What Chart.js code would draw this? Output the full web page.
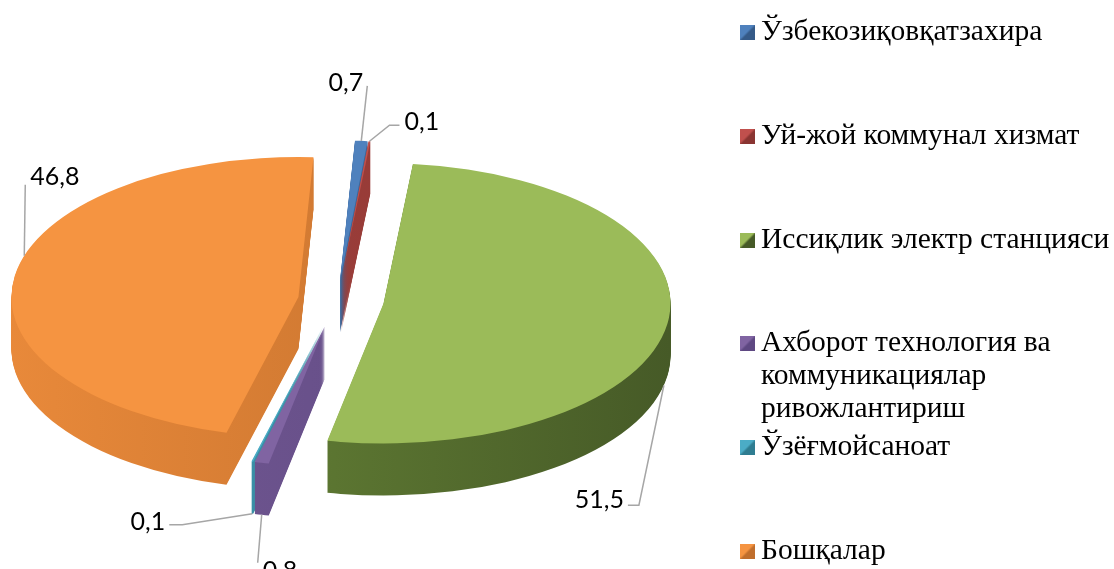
<!DOCTYPE html>
<html>
<head>
<meta charset="utf-8">
<script src="https://cdn.jsdelivr.net/npm/chart.js@4.4.0/dist/chart.umd.min.js"></script>
<style>
  html, body { margin: 0; padding: 0; background: #fff; }
  #wrap { position: relative; width: 1114px; height: 569px; overflow: hidden; }
  #pie { position: absolute; left: 0; top: 0; }
  #legend { position: absolute; left: 740px; top: 0; width: 374px; height: 569px; color: #000; }
  .item { position: absolute; left: 0; display: flex; align-items: flex-start; }
  .box { width: 15px; height: 15px; margin-top: 11px; margin-right: 6px; flex: none; }
  .txt { width: 356px; font-family: 'Liberation Serif'; font-size: 29.5px; line-height: 33px; }
</style>
</head>
<body>
<div id="wrap">
  <canvas id="pie" width="1114" height="569"></canvas>
  <div id="legend"></div>
</div>
<script>
// data
const categories = [
  'Ўзбекозиқовқатзахира',
  'Уй-жой коммунал хизмат',
  'Иссиқлик электр станцияси',
  'Ахборот технология ва коммуникациялар ривожлантириш',
  'Ўзёғмойсаноат',
  'Бошқалар'
];
const shares = [0.7, 0.1, 51.5, 0.8, 0.1, 46.8];
const shareLabels = ['0,7', '0,1', '51,5', '0,8', '0,1', '46,8'];

const topColors  = ['#4F81BD', '#C0504D', '#9BBB59', '#8064A2', '#4BACC6', '#F59441'];
const sideLight  = ['#4673AA', '#A9443F', '#6A8838', '#735993', '#3F9AB2', '#E8893A'];
const sideDark   = ['#355A88', '#8A3532', '#465A27', '#5E4882', '#2F7D91', '#C06E2C'];

// 3D look
const TILT = 0.488;
const DEPTH = 52;
const RADIUS = 287;
const explode = [40, 40, 47, 55, 55, 39];

// label leader layout, relative to the anchor on the slice rim
const labelLayout = [
  { frac: 0.5,  side: false, path: [[0, 0], [6, -55]],               align: 'right', dx: -4, dy: -3 },
  { frac: 0.5,  side: false, path: [[0, 0], [20, -16], [30, -16]],   align: 'left',  dx: 5,  dy: -3 },
  { frac: 0.52, side: true,  path: [[0, 0], [-25, 120], [-36, 120]], align: 'right', dx: -4, dy: -5 },
  { frac: 0.5,  side: true,  path: [[0, 0], [-4, 48]],               align: 'left',  dx: 5,  dy: 8 },
  { frac: 0.5,  side: true,  path: [[0, 0], [-70, 11], [-83, 11]],   align: 'right', dx: -4, dy: -3 },
  { frac: 0.55, side: false, path: [[0, 0], [1, -71]],               align: 'left',  dx: 5,  dy: -8 }
];

function sliceShift(arc, i) {
  const mid = (arc.startAngle + arc.endAngle) / 2;
  return { x: Math.cos(mid) * explode[i], y: Math.sin(mid) * explode[i] * TILT };
}

function withOptions(arc, bg) {
  const fake = Object.create(arc);
  fake.options = Object.assign(Object.create(arc.options), { backgroundColor: bg, borderWidth: 0 });
  return fake;
}

const pie3d = {
  id: 'pie3d',
  beforeDatasetsDraw(chart) {
    const ctx = chart.ctx;
    const arcs = chart.getDatasetMeta(0).data;
    const cx = arcs[0].x, cy = arcs[0].y;

    // sides, back to front
    const order = arcs.map((a, i) => i).sort((p, q) => {
      const mp = (arcs[p].startAngle + arcs[p].endAngle) / 2;
      const mq = (arcs[q].startAngle + arcs[q].endAngle) / 2;
      return Math.sin(mp) - Math.sin(mq);
    });
    order.forEach(i => {
      const arc = arcs[i];
      const s = sliceShift(arc, i);
      const grad = ctx.createLinearGradient(cx - RADIUS, 0, cx + RADIUS, 0);
      grad.addColorStop(0, sideLight[i]);
      grad.addColorStop(1, sideDark[i]);
      const fake = withOptions(arc, grad);
      for (let d = DEPTH; d >= 1; d--) {
        ctx.save();
        ctx.translate(cx + s.x, cy + s.y + d);
        ctx.scale(1, TILT);
        ctx.translate(-cx, -cy);
        fake.draw(ctx);
        ctx.restore();
      }
    });

    // top faces
    arcs.forEach((arc, i) => {
      const s = sliceShift(arc, i);
      ctx.save();
      ctx.translate(cx + s.x, cy + s.y);
      ctx.scale(1, TILT);
      ctx.translate(-cx, -cy);
      withOptions(arc, topColors[i]).draw(ctx);
      ctx.restore();
    });

    // value labels with leader lines
    ctx.save();
    ctx.font = '25px Lato, "Open Sans", sans-serif';
    ctx.textBaseline = 'middle';
    arcs.forEach((arc, i) => {
      const L = labelLayout[i];
      const s = sliceShift(arc, i);
      const a = arc.startAngle + L.frac * (arc.endAngle - arc.startAngle);
      const ax = cx + s.x + Math.cos(a) * RADIUS;
      const ay = cy + s.y + Math.sin(a) * RADIUS * TILT + (L.side ? DEPTH : 0);
      ctx.strokeStyle = '#A6A6A6';
      ctx.lineWidth = 1.5;
      ctx.beginPath();
      L.path.forEach((p, k) => k ? ctx.lineTo(ax + p[0], ay + p[1]) : ctx.moveTo(ax + p[0], ay + p[1]));
      ctx.stroke();
      const last = L.path[L.path.length - 1];
      ctx.fillStyle = '#000';
      ctx.textAlign = L.align;
      ctx.fillText(shareLabels[i], ax + last[0] + L.dx, ay + last[1] + L.dy);
    });
    ctx.restore();
    return false;
  }
};

new Chart(document.getElementById('pie'), {
  type: 'pie',
  data: {
    labels: categories,
    datasets: [{
      data: shares,
      backgroundColor: topColors,
      borderWidth: 0,
      radius: RADIUS,
      clip: false
    }]
  },
  options: {
    responsive: false,
    animation: false,
    rotation: 3,
    layout: { padding: { left: 0, right: 440, top: 31, bottom: 0 } },
    plugins: { legend: { display: false }, tooltip: { enabled: false } }
  },
  plugins: [pie3d]
});

// legend
const legendRowTop = 14, legendRowStep = 103.8;
const legend = document.getElementById('legend');
categories.forEach((name, i) => {
  const row = document.createElement('div');
  row.className = 'item';
  row.style.top = (legendRowTop + i * legendRowStep) + 'px';
  const box = document.createElement('div');
  box.className = 'box';
  box.style.background = `linear-gradient(135deg, ${topColors[i]} 0%, ${topColors[i]} 45%, ${sideDark[i]} 55%, ${sideDark[i]} 100%)`;
  const txt = document.createElement('div');
  txt.className = 'txt';
  txt.textContent = name;
  row.appendChild(box);
  row.appendChild(txt);
  legend.appendChild(row);
});
</script>
</body>
</html>
